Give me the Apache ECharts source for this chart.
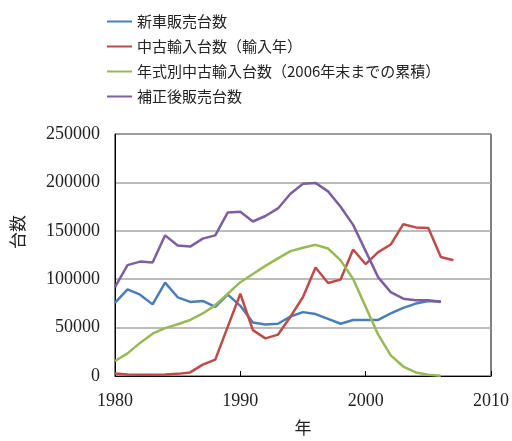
<!DOCTYPE html>
<html>
<head>
<meta charset="utf-8">
<script src="https://cdn.jsdelivr.net/npm/echarts@6/dist/echarts.min.js"></script>
<style>
  html, body { margin: 0; padding: 0; background: #fff; }
  #chart { width: 512px; height: 441px; }
</style>
</head>
<body>
<div id="chart"></div>
<script>
// データ
const years = [1980, 1981, 1982, 1983, 1984, 1985, 1986, 1987, 1988, 1989, 1990,
  1991, 1992, 1993, 1994, 1995, 1996, 1997, 1998, 1999, 2000,
  2001, 2002, 2003, 2004, 2005, 2006, 2007]
const newCarSales = [75500, 89500, 84000, 74000, 96500, 81300, 76500, 77500, 71500, 84000, 72500,
  55200, 53200, 54000, 61500, 66000, 64000, 59000, 54000, 57900, 57900,
  57900, 64600, 70400, 74800, 77500, 77200]
const usedImports = [2500, 1500, 1300, 1300, 1500, 2200, 3700, 11800, 16900, 51000, 85000,
  47400, 38900, 42700, 61300, 81600, 112000, 96100, 99600, 130700, 115500,
  128000, 135800, 156800, 153500, 152900, 123000, 119500]
const usedByModelYear = [15500, 23400, 34200, 43700, 49400, 53500, 57900, 64600, 73200, 85000, 96900,
  105300, 113800, 121500, 129000, 132500, 135500, 131700, 119500, 100200, 71400,
  42700, 21300, 9800, 3700, 1300, 300]
const adjustedSales = [91800, 114500, 118200, 117200, 145300, 134800, 133700, 141900, 145300, 169000, 169700,
  159600, 165300, 173100, 188300, 198500, 199500, 190700, 174800, 156100, 129000,
  101900, 86700, 79900, 78300, 78300, 76500]

const seriesNames = ['新車販売台数', '中古輸入台数（輸入年）', '年式別中古輸入台数（2006年末までの累積）', '補正後販売台数']
const seriesColors = ['#4a7ebb', '#be4b48', '#98b954', '#7d5fa0']

function pairs(vals) {
  return vals.map((v, i) => [years[i], v])
}

const chart = echarts.init(document.getElementById('chart'))
const numFont = 'Liberation Serif'
const jpFont = 'Noto Sans CJK JP'

const option = {
  animation: false,
  color: seriesColors,
  legend: {
    orient: 'vertical',
    left: 102,
    top: 9,
    itemWidth: 25,
    itemHeight: 14,
    itemGap: 10,
    icon: 'rect',
    textStyle: { fontFamily: jpFont, fontSize: 15, color: '#222' },
    data: seriesNames.map((n, i) => ({ name: n, icon: 'path://M0,6 L25,6 L25,8 L0,8 Z' }))
  },
  grid: {
    left: 115,
    right: 21,
    top: 134,
    bottom: 61,
    show: true,
    borderColor: '#000',
    borderWidth: 1
  },
  xAxis: {
    type: 'value',
    min: 1980,
    max: 2010,
    interval: 10,
    name: '年',
    nameLocation: 'middle',
    nameGap: 43,
    nameTextStyle: { fontFamily: jpFont, fontSize: 17, color: '#222' },
    axisLine: { lineStyle: { color: '#000', width: 1 } },
    axisTick: { inside: true, length: 5, lineStyle: { color: '#000' } },
    splitLine: { show: false },
    axisLabel: {
      margin: 16,
      fontFamily: numFont,
      fontSize: 18,
      color: '#222',
      formatter: v => String(v)
    }
  },
  yAxis: {
    type: 'value',
    min: 0,
    max: 250000,
    interval: 50000,
    axisLine: { show: true, lineStyle: { color: '#000', width: 1 } },
    axisTick: { show: false },
    splitLine: { lineStyle: { color: '#a6a6a6', width: 1.5 } },
    axisLabel: {
      margin: 15,
      fontFamily: numFont,
      fontSize: 18,
      color: '#222',
      formatter: v => String(v)
    }
  },
  graphic: [{
    type: 'text',
    x: 18,
    y: 232,
    rotation: Math.PI / 2,
    style: {
      text: '台数',
      font: '17px "Noto Sans CJK JP"',
      fill: '#222',
      align: 'center',
      verticalAlign: 'middle'
    }
  }],
  series: [newCarSales, usedImports, usedByModelYear, adjustedSales].map((vals, i) => ({
    name: seriesNames[i],
    type: 'line',
    data: pairs(vals),
    showSymbol: false,
    symbol: 'none',
    lineStyle: { width: 2.5, color: seriesColors[i] },
    itemStyle: { color: seriesColors[i] }
  }))
}

chart.setOption(option)
</script>
</body>
</html>
